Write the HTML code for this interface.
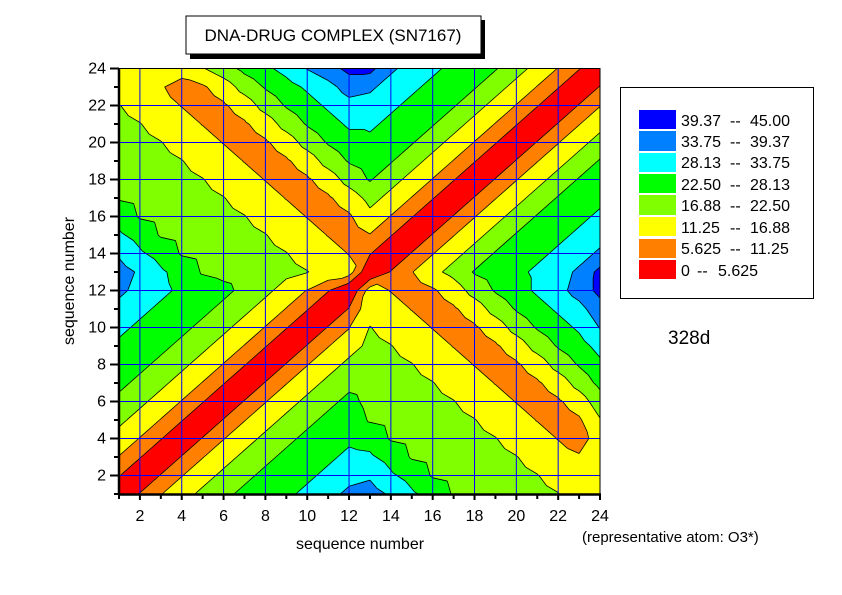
<!DOCTYPE html>
<html><head><meta charset="utf-8"><style>
body{margin:0;background:#fff;width:842px;height:595px;overflow:hidden;font-family:"Liberation Sans",sans-serif}
svg{position:absolute;left:0;top:0}
</style></head><body>
<svg id="s" width="842" height="595" xmlns="http://www.w3.org/2000/svg" font-family="Liberation Sans, sans-serif">
<rect x="190" y="20" width="295" height="39" fill="#000"/>
<rect x="186" y="16" width="295" height="38" fill="#fff" stroke="#000" stroke-width="1"/>
<text x="333" y="41" font-size="17" text-anchor="middle">DNA-DRUG COMPLEX (SN7167)</text>
<g id="plot"></g>
<rect x="620.5" y="87.5" width="193" height="211" fill="#fff" stroke="#000"/>
<g font-size="16">
<rect x="639" y="110" width="37" height="19" fill="#0000FF"/><text x="681" y="126">39.37</text><text x="730" y="126">--</text><text x="750" y="126">45.00</text>
<rect x="639" y="131" width="37" height="20" fill="#0080FF"/><text x="681" y="147">33.75</text><text x="730" y="147">--</text><text x="750" y="147">39.37</text>
<rect x="639" y="153" width="37" height="19" fill="#00FFFF"/><text x="681" y="168">28.13</text><text x="730" y="168">--</text><text x="750" y="168">33.75</text>
<rect x="639" y="174" width="37" height="19" fill="#00FF00"/><text x="681" y="190">22.50</text><text x="730" y="190">--</text><text x="750" y="190">28.13</text>
<rect x="639" y="195" width="37" height="20" fill="#80FF00"/><text x="681" y="211">16.88</text><text x="730" y="211">--</text><text x="750" y="211">22.50</text>
<rect x="639" y="217" width="37" height="19" fill="#FFFF00"/><text x="681" y="233">11.25</text><text x="730" y="233">--</text><text x="750" y="233">16.88</text>
<rect x="639" y="239" width="37" height="19" fill="#FF8000"/><text x="681" y="254">5.625</text><text x="730" y="254">--</text><text x="750" y="254">11.25</text>
<rect x="639" y="260" width="37" height="19" fill="#FF0000"/><text x="681" y="276">0</text><text x="697" y="276">--</text><text x="718" y="276">5.625</text>
</g>
<text x="668" y="344" font-size="19">328d</text>
<text x="360" y="549" font-size="16" text-anchor="middle">sequence number</text>
<text x="582" y="542" font-size="15">(representative atom: O3*)</text>
<text transform="translate(74,281) rotate(-90)" font-size="16" text-anchor="middle">sequence number</text>
</svg>
<script>
(function(){
function X(v){return 119+(v-1)*20.913;}
function Y(v){return 494-(v-1)*18.5;}
var h1=[0,6,11,15,18,21,24,25.5,27,29.5,32,35];
var h2=[0,6,11,15.5,18.5,23,25,27,29,31,35,41];
var gg={"-11":36,"-10":33,"-9":29,"-8":26,"-7":22,"-6":21,"-5":20,"-4":19,"-3":18,"-2":17,"-1":15.5,"0":14,"1":11,"2":8,"3":10.5,"4":14,"5":19,"6":23,"7":26,"8":29,"9":32,"10":36,"11":41};
var toprow=[14,14,14,15,16.5,20,24,27,30,34,37,41];
function cross(a,b){
 if(b==1)return toprow[a-1];
 if(b==2&&a==2)return 13;
 if(b==2&&a==3)return 12;
 return gg[String(a-b)];}
function D(i,j){
 if(i<=12&&j<=12)return h1[Math.abs(i-j)];
 if(i>=13&&j>=13)return h2[Math.abs(i-j)];
 if(i<=12)return cross(i,25-j);
 return cross(j,25-i);
}
var lev=[-1,5.625,11.25,16.88,22.5,28.13,33.75,39.37,100];
var col=["#FF0000","#FF8000","#FFFF00","#80FF00","#00FF00","#00FFFF","#0080FF","#0000FF"];
function clip(poly,f){
 var out=[];
 for(var k=0;k<poly.length;k++){
  var p=poly[k],q=poly[(k+1)%poly.length];
  var fp=f(p[2]),fq=f(q[2]);
  if(fp>=0)out.push(p);
  if((fp>=0)!=(fq>=0)){var t=fp/(fp-fq);out.push([p[0]+t*(q[0]-p[0]),p[1]+t*(q[1]-p[1]),p[2]+t*(q[2]-p[2])]);}
 }
 return out;
}
var fills="",lines="";
for(var i=1;i<24;i++)for(var j=1;j<24;j++){
 var A=[i,j,D(i,j)],B=[i+1,j,D(i+1,j)],C=[i+1,j+1,D(i+1,j+1)],E=[i,j+1,D(i,j+1)];
 var tris=[[A,B,C],[A,C,E]];
 tris.forEach(function(t){
  for(var b=0;b<8;b++){
   var lo=lev[b],hi=lev[b+1];
   var p=clip(t,function(v){return v-lo;});
   if(p.length<3)continue;
   p=clip(p,function(v){return hi-v;});
   if(p.length<3)continue;
   var s=p.map(function(q){return X(q[0]).toFixed(2)+","+Y(q[1]).toFixed(2);}).join(" ");
   fills+='<polygon points="'+s+'" fill="'+col[b]+'" stroke="'+col[b]+'" stroke-width="0.6"/>';
  }
  for(var L=1;L<8;L++){
   var lv=lev[L],pts=[];
   for(var k=0;k<3;k++){var p=t[k],q=t[(k+1)%3];
    if((p[2]<lv)!=(q[2]<lv)){var tt=(lv-p[2])/(q[2]-p[2]);pts.push([p[0]+tt*(q[0]-p[0]),p[1]+tt*(q[1]-p[1])]);}}
   if(pts.length==2)lines+='<line x1="'+X(pts[0][0]).toFixed(2)+'" y1="'+Y(pts[0][1]).toFixed(2)+'" x2="'+X(pts[1][0]).toFixed(2)+'" y2="'+Y(pts[1][1]).toFixed(2)+'"/>';
  }
 });
}
var grid="";
for(var v=2;v<=22;v+=2){
 grid+='<line x1="'+X(v)+'" y1="'+Y(1)+'" x2="'+X(v)+'" y2="'+Y(24)+'"/>';
 grid+='<line x1="'+X(1)+'" y1="'+Y(v)+'" x2="'+X(24)+'" y2="'+Y(v)+'"/>';
}
var ax="",lab="";
for(var v=1;v<=24;v++){
 var maj=(v%2==0);
 ax+='<line x1="'+X(v)+'" y1="494" x2="'+X(v)+'" y2="'+(maj?500:499)+'"/>';
 ax+='<line x1="119" y1="'+Y(v)+'" x2="'+(maj?110:114)+'" y2="'+Y(v)+'"/>';
 if(maj){lab+='<text x="'+X(v)+'" y="521" text-anchor="middle">'+v+'</text>';
  lab+='<text x="106" y="'+(Y(v)+5)+'" text-anchor="end">'+v+'</text>';}
}
document.getElementById("plot").innerHTML=fills+
 '<g stroke="#000" stroke-width="0.8">'+lines+'</g>'+
 '<g stroke="#0000FF" stroke-width="1">'+grid+'</g>'+
 '<rect x="119" y="68.5" width="481" height="425.5" fill="none" stroke="#000" stroke-width="1"/>'+
 '<line x1="119" y1="68" x2="119" y2="495" stroke="#000" stroke-width="2.5"/>'+
 '<line x1="118" y1="494.5" x2="601" y2="494.5" stroke="#000" stroke-width="2.5"/>'+
 '<g stroke="#000" stroke-width="2">'+ax+'</g>'+
 '<g font-size="16">'+lab+'</g>';
})();
</script>
</body></html>
